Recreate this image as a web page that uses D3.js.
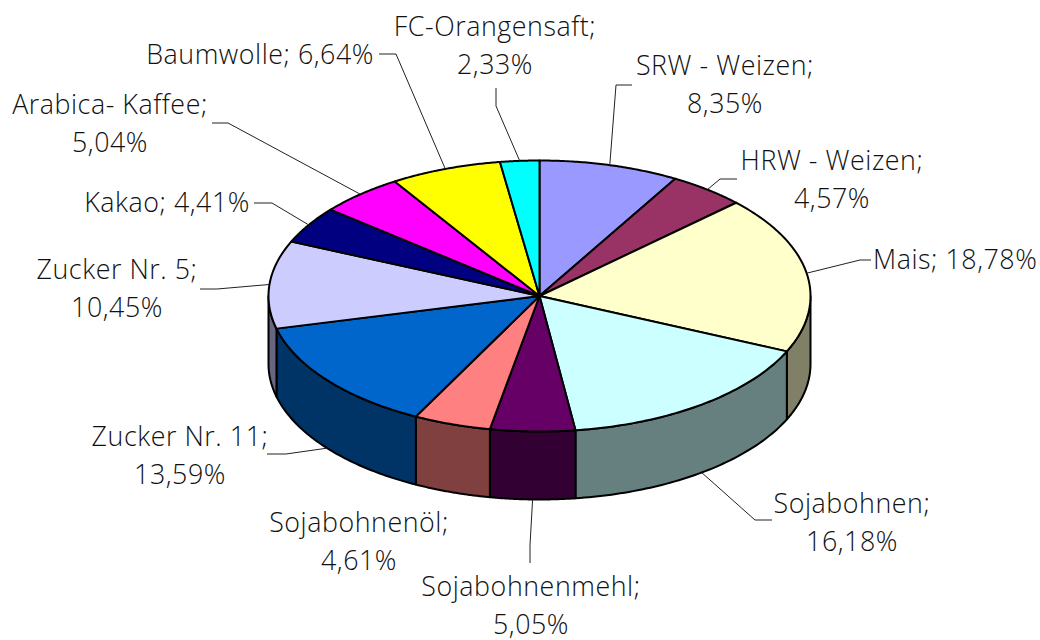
<!DOCTYPE html>
<html>
<head>
<meta charset="utf-8">
<script src="https://cdn.jsdelivr.net/npm/d3@7"></script>
<style>
  html, body { margin: 0; background: #fff; }
  text { font-family: "Open Sans", sans-serif; font-weight: 300; font-size: 26.8px; letter-spacing: 0.55px; fill: #111; }
</style>
</head>
<body>
<svg id="chart" width="1040" height="640"></svg>
<script>
// data, clockwise from 12 o'clock
const names = ["SRW - Weizen", "HRW - Weizen", "Mais", "Sojabohnen", "Sojabohnenmehl", "Sojabohnenöl",
  "Zucker Nr. 11", "Zucker Nr. 5", "Kakao", "Arabica- Kaffee", "Baumwolle", "FC-Orangensaft"];
const values = [8.35, 4.57, 18.78, 16.18, 5.05, 4.61, 13.59, 10.45, 4.41, 5.04, 6.64, 2.33];
const topColors = ["#9999ff", "#993366", "#ffffcc", "#ccffff", "#660066", "#ff8080",
  "#0066cc", "#ccccff", "#000080", "#ff00ff", "#ffff00", "#00ffff"];
const wallColors = ["#666680", "#662244", "#808066", "#668080", "#330033", "#804040",
  "#003366", "#666680", "#000040", "#800080", "#808000", "#008080"];

// label placement: [x, first baseline, anchor, one line?]
const labelPos = [
  [725, 75, "middle", false], [832, 170, "middle", false], [873, 269, "start", true],
  [852, 513, "middle", false], [531, 596, "middle", false], [359, 532, "middle", false],
  [180, 446, "middle", false], [117, 279, "middle", false], [250, 212, "end", true],
  [110, 114, "middle", false], [374, 64, "end", true], [495, 36, "middle", false]
];
// leader line bends, from the slice edge outwards to the label (Sojabohnenöl has none)
const leaderBends = [
  [[616, 85], [632, 85]], [[720, 179], [737, 179]], [[860, 260], [871, 260]],
  [[755, 520], [772, 520]], [[530, 545], [530, 563]], [],
  [[286, 454], [267, 454]], [[217, 289], [200, 289]], [[272, 203], [254, 203]],
  [[228, 123], [212, 123]], [[396, 54], [379, 54]], [[496, 106], [496, 88]]
];

const cx = 539.5, cy = 296, rx = 271, ry = 135.5, depth = 68;
const svg = d3.select("#chart");

const x = d3.scaleLinear().domain([-1, 1]).range([cx - rx, cx + rx]);
const y = d3.scaleLinear().domain([-1, 1]).range([cy - ry, cy + ry]);
const pie = d3.pie().sort(null).value(d => d);
const arcs = pie(values);

const px = a => x(Math.sin(a));
const py = a => y(-Math.cos(a));
const line = d3.line();
const rim = (a0, a1, off) => d3.range(0, 61).map(i => {
  const a = a0 + (a1 - a0) * i / 60;
  return [px(a), py(a) + off];
});

// walls, only the part of each slice facing the viewer
svg.append("g").selectAll("path")
  .data(arcs.filter(d => d.endAngle > Math.PI / 2 && d.startAngle < Math.PI * 1.5))
  .enter().append("path")
  .attr("d", d => {
    const a0 = Math.max(d.startAngle, Math.PI / 2), a1 = Math.min(d.endAngle, Math.PI * 1.5);
    return line(rim(a0, a1, 0).concat(rim(a1, a0, depth))) + "Z";
  })
  .attr("fill", d => wallColors[d.index])
  .attr("stroke", "#000")
  .attr("stroke-width", 2)
  .attr("stroke-linejoin", "round");

// top face
svg.append("g").selectAll("path")
  .data(arcs)
  .enter().append("path")
  .attr("d", d => line([[x(0), y(0)]].concat(rim(d.startAngle, d.endAngle, 0))) + "Z")
  .attr("fill", d => topColors[d.index])
  .attr("stroke", "#000")
  .attr("stroke-width", 2)
  .attr("stroke-linejoin", "round");

// leader lines start on the visible edge at the middle of the slice
svg.append("g").selectAll("path")
  .data(arcs.filter(d => leaderBends[d.index].length))
  .enter().append("path")
  .attr("d", d => {
    const mid = (d.startAngle + d.endAngle) / 2;
    const front = mid > Math.PI / 2 && mid < Math.PI * 1.5;
    return line([[px(mid), py(mid) + (front ? depth : 0)]].concat(leaderBends[d.index]));
  })
  .attr("fill", "none")
  .attr("stroke", "#222")
  .attr("stroke-width", 1);

const pct = v => v.toFixed(2).replace(".", ",") + "%";

const labels = svg.append("g").selectAll("text")
  .data(names)
  .enter().append("text")
  .attr("text-anchor", (d, i) => labelPos[i][2])
  .attr("y", (d, i) => labelPos[i][1]);

labels.each(function (d, i) {
  const t = d3.select(this), p = labelPos[i];
  if (p[3]) {
    t.append("tspan").attr("x", p[0]).text(d + "; " + pct(values[i]));
  } else {
    t.append("tspan").attr("x", p[0]).text(d + ";");
    t.append("tspan").attr("x", p[0]).attr("dy", 38).text(pct(values[i]));
  }
});
</script>
</body>
</html>
